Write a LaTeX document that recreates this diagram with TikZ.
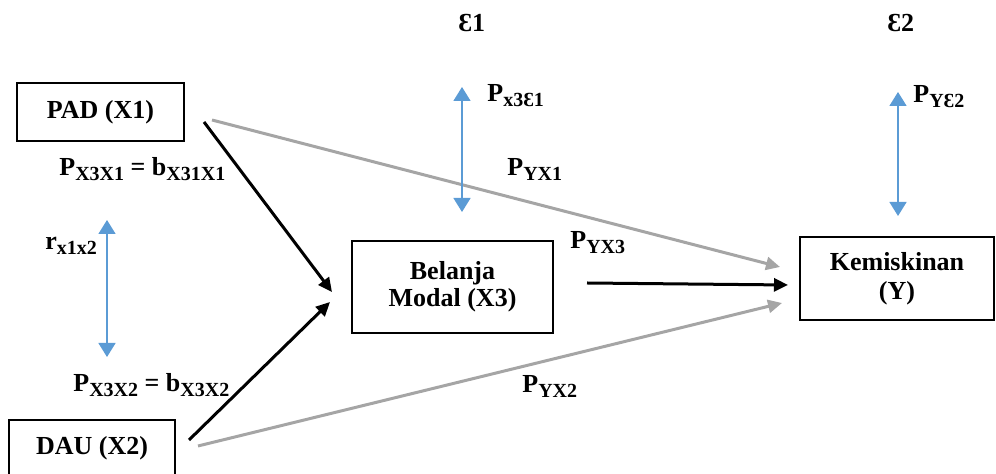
\documentclass[tikz,border=0pt]{standalone}
\usepackage{fontspec}
\setmainfont{Liberation Serif}
\usetikzlibrary{arrows.meta}
\newcommand\sbx[1]{\raisebox{-0.35ex}{\fontsize{10}{10}\selectfont #1}}
\definecolor{arrowgray}{RGB}{165,165,165}
\definecolor{arrowblue}{RGB}{91,155,213}
\begin{document}
\begin{tikzpicture}[x=0.5pt,y=-0.5pt,
  font=\fontsize{13}{14}\selectfont\bfseries,
  box/.style={draw=black, line width=1pt, align=center, inner sep=0pt},
  lbl/.style={anchor=base west, inner sep=0pt},
  blk/.style={draw=black, line width=1.5pt, -{Triangle[length=7pt,width=6.5pt]}},
  gry/.style={draw=arrowgray, line width=1.5pt, -{Triangle[length=7pt,width=6.5pt]}},
  blu/.style={draw=arrowblue, line width=0.75pt, {Triangle[length=7pt,width=8.5pt]}-{Triangle[length=7pt,width=8.5pt]}}]
\useasboundingbox (0,0) rectangle (996,474);
\clip (0,0) rectangle (996,474);
% boxes
\node[box, minimum width=83.5pt, minimum height=29pt] (pad) at (100.5,112) {PAD (X1)};
\node[box, minimum width=83pt, minimum height=28pt] (dau) at (92,448) {DAU (X2)};
\node[box, minimum width=100.5pt, minimum height=46pt, font=\fontsize{13}{13.5}\selectfont\bfseries] (bm) at (452.5,287) {Belanja\\Modal (X3)};
\node[box, minimum width=97pt, minimum height=41.5pt, font=\fontsize{13}{14.5}\selectfont\bfseries] (kem) at (897,278.5) {Kemiskinan\\(Y)};
% connector end points
\coordinate (a1s) at (204,122); \coordinate (a1e) at (332,292);
\coordinate (a2s) at (189,440); \coordinate (a2e) at (330,302);
\coordinate (a3s) at (587,283); \coordinate (a3e) at (788,285);
\coordinate (g1s) at (212,120); \coordinate (g1e) at (780,267);
\coordinate (g2s) at (198,446); \coordinate (g2e) at (782,303);
\coordinate (e1t) at (462,87); \coordinate (e1b) at (462,212);
\coordinate (e2t) at (898,92); \coordinate (e2b) at (898,216);
\coordinate (rt) at (107,220); \coordinate (rb) at (107,357);
% connectors
\draw[gry] (g1s) -- (g1e);
\draw[gry] (g2s) -- (g2e);
\draw[blk] (a1s) -- (a1e);
\draw[blk] (a2s) -- (a2e);
\draw[blk] (a3s) -- (a3e);
\draw[blu] (e1t) -- (e1b);
\draw[blu] (e2t) -- (e2b);
\draw[blu] (rt) -- (rb);
% labels
\node[lbl] (eps1) at (458,32) {Ɛ1};
\node[lbl] (eps2) at (887,32) {Ɛ2};
\node[lbl] (px3e1) at (487,102) {P\sbx{x3Ɛ1}};
\node[lbl] (pye2) at (913,103) {P\sbx{YƐ2}};
\node[lbl] (pyx1) at (507,176) {P\sbx{YX1}};
\node[lbl] (pyx3) at (570,249) {P\sbx{YX3}};
\node[lbl] (pyx2) at (522,393) {P\sbx{YX2}};
\node[lbl] (px3x1) at (59,176) {P\sbx{X3X1} = b\sbx{X31X1}};
\node[lbl] (rx) at (45,250) {r\sbx{x1x2}};
\node[lbl] (px3x2) at (73,392) {P\sbx{X3X2} = b\sbx{X3X2}};
\end{tikzpicture}
\end{document}
